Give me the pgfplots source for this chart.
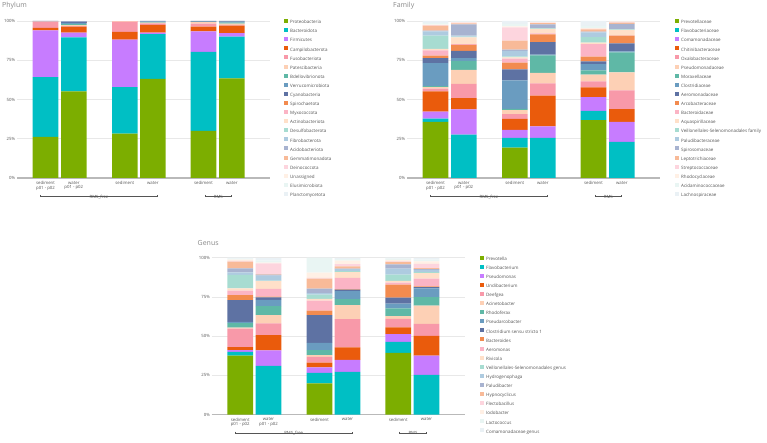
\documentclass[border=0pt]{standalone}
\usepackage{pgfplots}
\pgfplotsset{compat=1.18}
\usepackage{pgfplotstable}
\usepackage{fontspec}
\setmainfont{Open Sans}

\definecolor{c1}{HTML}{7CAE00}
\definecolor{c2}{HTML}{00BFC4}
\definecolor{c3}{HTML}{C77CFF}
\definecolor{c4}{HTML}{EA5B0C}
\definecolor{c5}{HTML}{F899A9}
\definecolor{c6}{HTML}{FDD0B5}
\definecolor{c7}{HTML}{5FB8A6}
\definecolor{c8}{HTML}{6A9CC0}
\definecolor{c9}{HTML}{5E72A3}
\definecolor{c10}{HTML}{F28B4F}
\definecolor{c11}{HTML}{FBB4C5}
\definecolor{c12}{HTML}{FFE0C9}
\definecolor{c13}{HTML}{A7DCD1}
\definecolor{c14}{HTML}{AECBE0}
\definecolor{c15}{HTML}{A8B3D0}
\definecolor{c16}{HTML}{F8BA98}
\definecolor{c17}{HTML}{FDD5DE}
\definecolor{c18}{HTML}{FFF0E5}
\definecolor{c19}{HTML}{E9F5F3}
\definecolor{c20}{HTML}{EAF1F5}
\definecolor{txt}{HTML}{555555}
\definecolor{ttl}{HTML}{888888}
\definecolor{gridgray}{HTML}{E8E8E8}

\newcommand{\ticksize}{\fontsize{4.3}{4.7}\selectfont}
\newcommand{\legsize}{\fontsize{4.5}{5}\selectfont}
\newcommand{\titlesize}{\fontsize{7}{8}\selectfont}

% bars in rows, taxa in columns (share of reads, %)
\pgfplotstableread{
x s1 s2 s3 s4 s5 s6 s7 s8 s9 s10 s11 s12 s13 s14 s15 s16 s17 s18 s19 s20
45.5 26.2 38.1 29.7 1.6 4.0 0.2 0 0.1 0.1 0 0 0 0 0 0 0 0 0 0 0
73.8 55.1 34.5 3.0 3.8 0.4 0.6 0.6 0.8 0.6 0.2 0 0 0 0 0.4 0 0 0 0 0
124.8 28.3 29.6 30.2 4.9 6.4 0.3 0 0 0 0 0.3 0 0 0 0 0 0 0 0 0
152.8 63.2 28.5 0.9 4.9 1.0 0.4 0.3 0.6 0.2 0 0 0 0 0 0 0 0 0 0 0
203.5 30.0 50.4 13.0 3.0 1.9 0.9 0.2 0.2 0.4 0 0 0 0 0 0 0 0 0 0 0
231.8 63.4 26.6 2.2 4.8 0.6 0.8 0.6 0.6 0.4 0 0 0 0 0 0 0 0 0 0 0
}\phylum

\pgfplotstableread{
x s1 s2 s3 s4 s5 s6 s7 s8 s9 s10 s11 s12 s13 s14 s15 s16 s17 s18 s19 s20
45.5 35.7 2.1 4.5 12.8 1.9 0.9 0.6 14.7 3.2 1.5 3.4 1.0 8.3 2.8 0.4 3.2 0.4 0.3 1.0 1.3
73.8 0 27.7 16.0 7.2 9.1 8.9 5.7 1.7 4.7 3.8 0.4 4.3 0.6 0.6 7.2 0.6 0.4 0.3 0.3 0.5
124.8 19.4 6.2 5.1 7.0 3.0 2.6 0.8 18.1 7.0 4.3 2.6 0.8 0.6 3.4 0.9 5.7 8.5 0.6 1.5 1.9
152.8 0 25.5 7.4 19.6 7.7 6.8 11.1 0.4 8.1 4.9 0.6 2.8 0.4 0.2 2.3 0.8 0.4 0.3 0.3 0.4
203.5 36.8 6.0 8.7 6.2 3.8 4.3 2.8 4.0 1.7 3.0 7.9 1.1 3.4 3.0 0.6 1.3 0.4 0.4 1.5 3.1
231.8 0 23.0 12.8 8.0 12.0 11.5 12.7 0.6 5.2 4.8 0.3 3.4 0.3 0.2 3.3 0.8 0.6 0.2 0.2 0.1
}\family

\pgfplotstableread{
x s1 s2 s3 s4 s5 s6 s7 s8 s9 s10 s11 s12 s13 s14 s15 s16 s17 s18 s19 s20
45.5 37.7 2.3 1.1 1.9 11.9 0.6 2.8 0.8 13.8 3.2 3.0 1.3 8.7 1.5 2.6 4.3 0.4 0.9 0.6 0.6
73.8 0 31.1 9.8 9.8 7.4 5.3 5.7 4.0 1.7 0.4 4.9 4.9 0.4 3.2 0.6 0.4 6.8 0.4 1.5 1.5
124.8 20.0 6.6 3.6 3.0 3.6 1.1 3.2 4.7 17.7 2.8 6.4 1.1 2.6 1.1 2.8 6.4 0.4 3.4 9.4 0.1
152.8 0 27.2 7.7 7.9 18.1 8.9 3.8 5.1 0.9 0.4 7.2 3.6 0.6 1.3 0.4 1.3 1.5 2.3 0.9 0.8
203.5 39.4 7.0 4.9 4.3 5.5 1.7 4.9 3.0 3.8 8.3 1.3 1.1 4.0 3.8 2.8 1.5 0.4 0.9 0.8 0.6
231.8 0 25.3 12.3 12.6 7.7 11.5 5.5 5.5 0.9 0.4 4.9 3.6 0.6 1.5 0.4 0.6 2.8 1.5 1.2 1.1
}\genus

\tikzset{
  brk/.style={draw=txt, line width=0.5pt},
  brktext/.style={fill=white, inner sep=1pt, font=\ticksize, text=txt},
}

\pgfplotsset{
  sqlegend/.style={legend image code/.code={\fill[##1] (0pt,-0.4pt) rectangle (4pt,3.6pt);}},
  panel/.style={
    ybar stacked,
    bar width=25.6,
    every axis plot post/.append style={sqlegend},
    scale only axis,
    width=253pt, height=157pt,
    xmin=17, xmax=270, ymin=0, ymax=100,
    axis line style={draw=none},
    major tick length=0pt,
    ytick={0,25,50,75,100},
    yticklabels={0\%,25\%,50\%,75\%,100\%},
    ymajorgrids,
    major grid style={draw=gridgray, line width=0.8pt},
    xtick={45.5,73.8,124.8,152.8,203.5,231.8},
    xticklabels={{sediment\\p01 - p02},{water\\p01 - p02},sediment,water,sediment,water},
    xticklabel style={align=center, font=\ticksize, text=txt, inner sep=0pt, yshift=-3pt},
    yticklabel style={font=\ticksize, text=txt, inner sep=0pt, xshift=-1.7pt},
    clip=false,
    legend cell align=left,
    legend style={anchor=north west, draw=none, fill=none, inner sep=0pt,
      font=\legsize, text=txt, row sep=3.1pt,
      nodes={inner sep=0.3pt, text height=3.2pt, text depth=1pt},
      /tikz/every odd column/.append style={column sep=2.4pt}},
  },
}

\newcommand{\brackets}{%
  \draw[brk] ([yshift=-17pt]axis cs:40.7,0) -- ([yshift=-18.7pt]axis cs:40.7,0)
    -- ([yshift=-18.7pt]axis cs:157.3,0) -- ([yshift=-17pt]axis cs:157.3,0);
  \node[brktext] at ([yshift=-18.7pt]axis cs:99,0) {RMS\_free};
  \draw[brk] ([yshift=-17pt]axis cs:205,0) -- ([yshift=-18.7pt]axis cs:205,0)
    -- ([yshift=-18.7pt]axis cs:231.7,0) -- ([yshift=-17pt]axis cs:231.7,0);
  \node[brktext] at ([yshift=-18.7pt]axis cs:218.3,0) {RMS};
  \draw[draw=gray!55, line width=1.2pt] (axis cs:17,0) -- (axis cs:270,0);
}

\begin{document}
\begin{tikzpicture}
\useasboundingbox (0,0) rectangle (767pt,443pt);

\node[anchor=base west, font=\titlesize, text=ttl, inner sep=0pt] at (2pt,435.5pt) {Phylum};
\node[anchor=base west, font=\titlesize, text=ttl, inner sep=0pt] at (393pt,435.5pt) {Family};
\node[anchor=base west, font=\titlesize, text=ttl, inner sep=0pt] at (197.5pt,197pt) {Genus};

% Phylum
\begin{axis}[panel, at={(17pt,265pt)}, anchor=south west,
  legend style={at={(1.0526,1.0134)}},
  legend entries={Proteobacteria, Bacteroidota, Firmicutes, Campilobacterota,
    Fusobacteriota, Patescibacteria, Bdellovibrionota, Verrucomicrobiota,
    Cyanobacteria, Spirochaetota, Myxococcota, Actinobacteriota,
    Desulfobacterota, Fibrobacterota, Acidobacteriota, Gemmatimonadota,
    Deinococcota, Unassigned, Elusimicrobiota, Planctomycetota}]
\pgfplotsinvokeforeach{1,...,20}{\addplot[fill=c#1, draw=none] table[x=x, y=s#1] {\phylum};}
\brackets
\end{axis}

% Family
\begin{axis}[panel, at={(407pt,265pt)}, anchor=south west,
  legend style={at={(1.0565,1.0134)}},
  legend entries={Prevotellaceae, Flavobacteriaceae, Comamonadaceae,
    Chitinibacteraceae, Oxalobacteraceae, Pseudomonadaceae, Moraxellaceae,
    Clostridiaceae, Aeromonadaceae, Arcobacteraceae, Bacteroidaceae,
    Aquaspirillaceae, Veillonellales-Selenomonadales family, Paludibacteraceae,
    Spirosomaceae, Leptotrichiaceae, Streptococcaceae, Rhodocyclaceae,
    Acidaminococcaceae, Lachnospiraceae}]
\pgfplotsinvokeforeach{1,...,20}{\addplot[fill=c#1, draw=none] table[x=x, y=s#1] {\family};}
\brackets
\end{axis}

% Genus
\begin{axis}[panel, at={(211.7pt,28.3pt)}, anchor=south west,
  legend style={at={(1.0577,1.015)}},
  legend entries={Prevotella, Flavobacterium, Pseudomonas, Undibacterium,
    Deefgea, Acinetobacter, Rhodoferax, Pseudarcobacter,
    Clostridium sensu stricto 1, Bacteroides, Aeromonas, Rivicola,
    Veillonellales-Selenomonadales genus, Hydrogenophaga, Paludibacter,
    Hypnocyclicus, Flectobacillus, Iodobacter, Lactococcus,
    Comamonadaceae genus}]
\pgfplotsinvokeforeach{1,...,20}{\addplot[fill=c#1, draw=none] table[x=x, y=s#1] {\genus};}
\brackets
\end{axis}
\end{tikzpicture}
\end{document}
